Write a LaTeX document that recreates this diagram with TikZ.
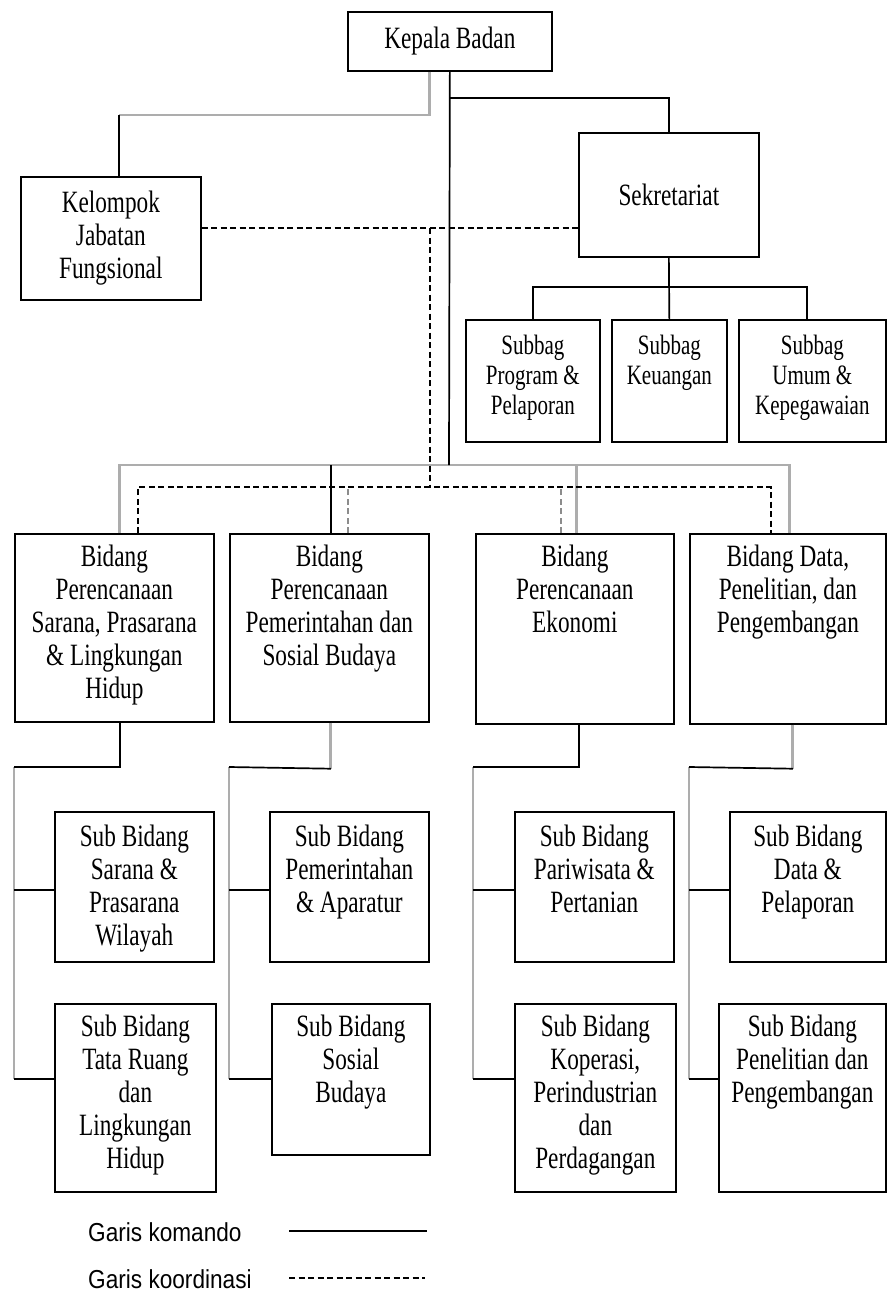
\documentclass[tikz,border=0pt]{standalone}
\usepackage{fontspec}
\setmainfont{Liberation Serif}[FakeStretch=0.75]
\newfontfamily\legendfont{Liberation Sans}[FakeStretch=0.87]
\newcommand{\boxtext}[4]{\parbox[t][#2][t]{#1}{\centering\vspace{#3}#4}}

\tikzset{
  unit/.style={draw, line width=1.7pt, inner sep=0pt, anchor=north west, align=center,
    font=\fontsize{31pt}{33pt}\selectfont},
  smallunit/.style={unit, font=\fontsize{28pt}{30pt}\selectfont},
  komando/.style={draw=black, line width=1.7pt},
  gris/.style={draw=black!32, line width=2.8pt},
  koord/.style={draw=black, line width=1.7pt, dash pattern=on 6pt off 3.5pt},
  koordgris/.style={koord, draw=black!45},
  legend/.style={anchor=west, inner sep=0pt, font=\legendfont\fontsize{26pt}{28pt}\selectfont},
}

\begin{document}
\begin{tikzpicture}[x=1pt, y=-1pt]
\useasboundingbox (0,0) rectangle (886,1292);
% pimpinan dan sekretariat
\node[unit, minimum width=204pt, minimum height=59pt] (kepala) at (347,11) {Kepala Badan};
\node[unit, minimum width=180pt, minimum height=123pt] (kelompok) at (20,176) {Kelompok\\Jabatan\\Fungsional};
\node[unit, minimum width=180pt, minimum height=124pt] (sek) at (578,132) {Sekretariat};
\node[smallunit] (subbag1) at (465,319) {\boxtext{134pt}{122pt}{15pt}{Subbag\\Program \&\\Pelaporan}};
\node[smallunit] (subbag2) at (611,319) {\boxtext{115pt}{122pt}{15pt}{Subbag\\Keuangan}};
\node[smallunit] (subbag3) at (738,319) {\boxtext{147pt}{122pt}{15pt}{Subbag\\Umum \&\\Kepegawaian}};
% bidang
\node[unit] (bidang1) at (14,533) {\boxtext{199pt}{188pt}{11pt}{Bidang\\Perencanaan\\Sarana, Prasarana\\\& Lingkungan\\Hidup}};
\node[unit] (bidang2) at (229,533) {\boxtext{199pt}{188pt}{11pt}{Bidang\\Perencanaan\\Pemerintahan dan\\Sosial Budaya}};
\node[unit] (bidang3) at (475,533) {\boxtext{198pt}{190pt}{11pt}{Bidang\\Perencanaan\\Ekonomi}};
\node[unit] (bidang4) at (689,533) {\boxtext{196pt}{190pt}{11pt}{Bidang Data,\\Penelitian, dan\\Pengembangan}};
% sub bidang
\node[unit] (sub1a) at (54,811) {\boxtext{159pt}{150pt}{13pt}{Sub Bidang\\Sarana \&\\Prasarana\\Wilayah}};
\node[unit] (sub1b) at (54,1003) {\boxtext{161pt}{188pt}{11pt}{Sub Bidang\\Tata Ruang\\dan\\Lingkungan\\Hidup}};
\node[unit] (sub2a) at (269,811) {\boxtext{159pt}{150pt}{13pt}{Sub Bidang\\Pemerintahan\\\& Aparatur}};
\node[unit] (sub2b) at (271,1003) {\boxtext{158pt}{151pt}{11pt}{Sub Bidang\\Sosial\\Budaya}};
\node[unit] (sub3a) at (514,811) {\boxtext{159pt}{150pt}{13pt}{Sub Bidang\\Pariwisata \&\\Pertanian}};
\node[unit] (sub3b) at (514,1003) {\boxtext{161pt}{188pt}{11pt}{Sub Bidang\\Koperasi,\\Perindustrian\\dan\\Perdagangan}};
\node[unit] (sub4a) at (729,811) {\boxtext{156pt}{150pt}{13pt}{Sub Bidang\\Data \&\\Pelaporan}};
\node[unit] (sub4b) at (718,1003) {\boxtext{167pt}{188pt}{11pt}{Sub Bidang\\Penelitian dan\\Pengembangan}};

\coordinate (jkel) at (119,115);
\coordinate (jsek) at (449,98);
\coordinate (jsub) at (668,287);
\coordinate (bus) at (449,465);
\coordinate (dk) at (430,228);
\coordinate (db) at (430,487);

% garis komando atas
\draw[gris] ([xshift=-20pt]kepala.south) |- (jkel);
\draw[komando] (jkel) -- (jkel |- kelompok.north);
\draw[gris] ([xshift=5.5pt]bidang1.north) |- (bus) -| ([xshift=2pt]bidang4.north);
\draw[gris] ([xshift=2pt]bidang3.north) -- ++(0,-68);
\draw[komando] ([xshift=1.5pt]bidang2.north) -- ++(0,-68);
\draw[komando] (kepala.south) -- (bus);
\draw[komando] (jsek) -| (sek.north);
\draw[komando] (sek.south) -- (subbag2.north);
\draw[komando] (subbag1.north) |- (jsub) -| ([xshift=-5.5pt]subbag3.north);

% garis koordinasi
\draw[koord] (kelompok.east |- dk) -- (sek.west |- dk);
\draw[koord] (dk) -- (db);
\draw[koord] ([xshift=23.5pt]bidang1.north) |- (db) -| ([xshift=-17pt]bidang4.north);
\draw[koordgris] ([xshift=18.5pt]bidang2.north) -- ++(0,-46);
\draw[koordgris] ([xshift=-14pt]bidang3.north) -- ++(0,-46);

% bidang ke sub bidang
\coordinate (r1) at (14,767);
\coordinate (r2) at (229,767);
\coordinate (r3) at (473,767);
\coordinate (r4) at (689,767);
\coordinate (s1a) at ([yshift=-79pt]sub1a.north west);
\coordinate (s1b) at ([yshift=-76pt]sub1b.north west);
\coordinate (s2a) at ([yshift=-79pt]sub2a.north west);
\coordinate (s2b) at ([yshift=-76pt]sub2b.north west);
\coordinate (s3a) at ([yshift=-79pt]sub3a.north west);
\coordinate (s3b) at ([yshift=-76pt]sub3b.north west);
\coordinate (s4a) at ([yshift=-79pt]sub4a.north west);
\coordinate (s4b) at ([yshift=-76pt]sub4b.north west);

\draw[gris] (r1) -- (r1 |- s1b);
\draw[gris] (r2) -- (r2 |- s2b);
\draw[gris] (r3) -- (r3 |- s3b);
\draw[gris] (r4) -- (r4 |- s4b);

\draw[komando] ([xshift=5.5pt]bidang1.south) |- (r1);
\draw[gris] ([xshift=1.5pt]bidang2.south) -- ++(0,46) coordinate (d2);
\draw[komando] (d2) -- (r2);
\draw[komando] ([xshift=4pt]bidang3.south) |- (r3);
\draw[gris] ([xshift=5pt]bidang4.south) -- ++(0,44) coordinate (d4);
\draw[komando] (d4) -- (r4);

\draw[komando] (r1 |- s1a) -- (s1a);
\draw[komando] (r1 |- s1b) -- (s1b);
\draw[komando] (r2 |- s2a) -- (s2a);
\draw[komando] (r2 |- s2b) -- (s2b);
\draw[komando] (r3 |- s3a) -- (s3a);
\draw[komando] (r3 |- s3b) -- (s3b);
\draw[komando] (r4 |- s4a) -- (s4a);
\draw[komando] (r4 |- s4b) -- (s4b);

% keterangan
\node[legend] (legkom) at (88,1232) {Garis komando};
\node[legend] (legkoord) at (88,1279) {Garis koordinasi};
\coordinate (lk1) at (289,1231);
\coordinate (lk2) at (427,1231);
\coordinate (lc1) at (289,1278);
\coordinate (lc2) at (425,1278);
\draw[komando] (lk1) -- (lk2);
\draw[koord] (lc1) -- (lc2);
\end{tikzpicture}
\end{document}
